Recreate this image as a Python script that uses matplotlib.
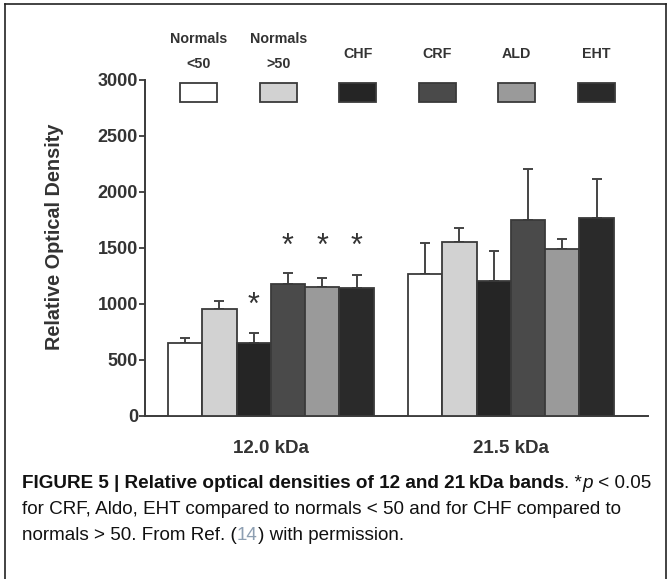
import matplotlib
matplotlib.use("Agg")
import matplotlib.pyplot as plt
from matplotlib.patches import Rectangle
from matplotlib.lines import Line2D
import numpy as np

# ---- data ----
groups = ["Normals\n<50", "Normals\n>50", "CHF", "CRF", "ALD", "EHT"]
bands = ["12.0 kDa", "21.5 kDa"]
mean_12 = [652, 955, 655, 1176, 1155, 1140]
sem_12 = [44, 75, 89, 98, 74, 119]
mean_21 = [1268, 1551, 1208, 1750, 1488, 1771]
sem_21 = [274, 125, 268, 452, 89, 345]
yticks = [0, 500, 1000, 1500, 2000, 2500, 3000]
star_12_trio = ["CRF", "ALD", "EHT"]
star_12_single = ["CHF"]

colors = ["#ffffff", "#d2d2d2", "#252525", "#4a4a4a", "#9a9a9a", "#2a2a2a"]
edge = "#3a3a3a"

plt.rcParams["font.family"] = ["Liberation Sans", "DejaVu Sans"]

fig = plt.figure(figsize=(6.71, 5.79), dpi=100)
ax = fig.add_axes([145/671, 163/579, 503/671, 336/579])

n = len(groups)
x12 = np.arange(n)
x21 = np.arange(n) + n + 1
for xs, means, sems in [(x12, mean_12, sem_12), (x21, mean_21, sem_21)]:
    ax.bar(xs, means, width=1.0, color=colors, edgecolor=edge, linewidth=1.3, zorder=3)
    ax.errorbar(xs, means, yerr=[np.zeros(n), sems], fmt="none", ecolor="#444444",
                elinewidth=1.4, capsize=3.6, capthick=1.4, zorder=2)

# significance stars
tops12 = np.array(mean_12) + np.array(sem_12)
trio_idx = [groups.index(g) for g in star_12_trio]
trio_y = tops12[trio_idx].max() + 240
for i in trio_idx:
    ax.text(x12[i], trio_y, "*", ha="center", va="center", fontsize=22, color="#333333")
for g in star_12_single:
    i = groups.index(g)
    ax.text(x12[i], tops12[i] + 236, "*", ha="center", va="center", fontsize=22, color="#333333")

ax.set_xlim(-1.17, 13.5)
ax.set_ylim(0, 3000)
ax.set_yticks(yticks)
ax.set_yticklabels([str(t) for t in yticks], fontsize=13, fontweight="bold", color="#333333")
ax.set_xticks([x12.mean(), x21.mean()])
ax.set_xticklabels(bands, fontsize=13.5, fontweight="bold", color="#333333")
ax.tick_params(axis="x", length=0, pad=17)
ax.tick_params(axis="y", length=4, width=1.3, pad=1, color=edge)
for s in ["top", "right"]:
    ax.spines[s].set_visible(False)
for s in ["left", "bottom"]:
    ax.spines[s].set_color(edge)
    ax.spines[s].set_linewidth(1.4)
ax.set_ylabel("Relative Optical Density", fontsize=14.3, fontweight="bold", color="#333333")
ax.yaxis.set_label_coords(-0.161, 0.534)

# legend (boxes with labels above)
for k, (lab, c) in enumerate(zip(groups, colors)):
    cx = 0.107 + k * 0.158
    ax.add_patch(Rectangle((cx - 0.0368, 0.934), 0.0736, 0.057, transform=ax.transAxes,
                           facecolor=c, edgecolor=edge, linewidth=1.3, clip_on=False))
    ty = 1.085 if "\n" in lab else 1.077
    ax.text(cx, ty, lab, transform=ax.transAxes, ha="center", va="center",
            fontsize=10.3, fontweight="bold", color="#333333", linespacing=1.95)

# frame around figure panel
for xs_, ys_ in [([5/671, 5/671], [0, 1 - 4/579]), ([666/671, 666/671], [0, 1 - 4/579]),
                 ([5/671, 666/671], [1 - 4/579, 1 - 4/579])]:
    fig.add_artist(Line2D(xs_, ys_, transform=fig.transFigure, color="#222222", lw=1.2))

# caption
cap_font = ["Liberation Sans", "DejaVu Sans"]
fs = 13.6
t1 = fig.text(22/671, 1 - 483/579, "FIGURE 5 | Relative optical densities of 12 and 21\u2009kDa bands",
              fontsize=fs, fontweight="bold", family=cap_font, va="center", color="#111111")
a2 = plt.annotate(". *", xy=(1, 0), xycoords=t1, va="bottom", ha="left",
                  fontsize=fs, family=cap_font, color="#111111")
a3 = plt.annotate("p", xy=(1, 0), xycoords=a2, va="bottom", ha="left",
                  fontsize=fs, family=cap_font, style="italic", color="#111111")
a4 = plt.annotate(" < 0.05", xy=(1, 0), xycoords=a3, va="bottom", ha="left",
                  fontsize=fs, family=cap_font, color="#111111")
fig.text(22/671, 1 - 510/579, "for CRF, Aldo, EHT compared to normals < 50 and for CHF compared to",
         fontsize=fs, family=cap_font, va="center", color="#111111")
b1 = fig.text(22/671, 1 - 536/579, "normals > 50. From Ref. (", fontsize=fs, family=cap_font,
              va="center", color="#111111")
b2 = plt.annotate("14", xy=(1, 0), xycoords=b1, va="bottom", ha="left",
                  fontsize=fs, family=cap_font, color="#8d9fb2")
plt.annotate(") with permission.", xy=(1, 0), xycoords=b2, va="bottom", ha="left",
             fontsize=fs, family=cap_font, color="#111111")

fig.savefig("out.png", dpi=100, facecolor="white")
